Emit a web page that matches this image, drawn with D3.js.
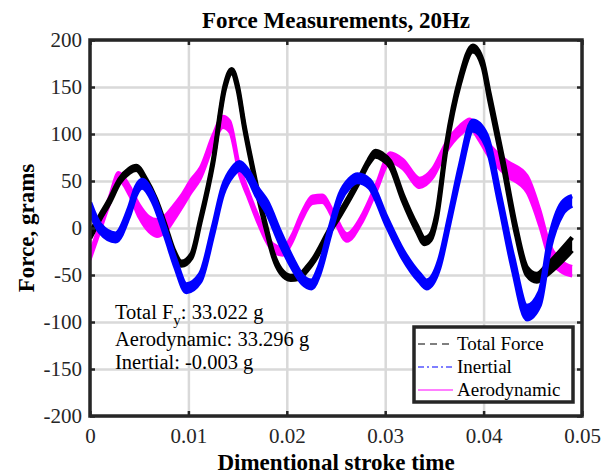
<!DOCTYPE html>
<html lang="en">
<head>
<meta charset="utf-8">
<title>Force Measurements, 20Hz</title>
<style>
  body { margin: 0; background: #fff; }
  svg { display: block; font-family: "Liberation Serif", "Times New Roman", serif; }
</style>
</head>
<body>
<svg id="chart" width="608" height="476"></svg>
<script src="https://d3js.org/d3.v7.min.js"></script>
<script>

// ---- data (time in s, force in grams) ----

let xTicks = [0, 0.01, 0.02, 0.03, 0.04, 0.05]
let yTicks = [-200, -150, -100, -50, 0, 50, 100, 150, 200]

// Total force (black band)
let totalTime = [0, .001, .002, .003, .004, .0047, .0057, .0067, .0077, .0085, .0093, .0103, .0112, .0125, .0137,
  .0144, .015, .0157, .0165, .0172, .0179, .0186, .0194, .0204, .0212, .022, .0228, .0236, .0244, .0254,
  .0264, .0274, .0283, .029, .0297, .0305, .0318, .0332, .034, .0346, .0352, .0362, .0376, .0389, .0399,
  .0406, .042, .0433, .0444, .0454, .0464, .0474, .049]
let totalForce = [-8, 11, 29, 50, 61, 64, 50, 29, 0, -25, -38, -30, 7, 70, 150,
  167, 150, 107, 65, 30, 0, -28, -46, -53, -52, -44, -33, -18, -2, 15,
  33, 52, 70, 79, 76, 68, 32, 0, -14, -10, 11, 86, 157, 191, 175,
  139, 68, -3, -46, -53, -45, -35, -17]
let totalSpread = [3, 2, 2, 2, 2, 2, 2, 2, 2, 2, 2, 2, 2, 2, 2,
  2, 2, 2, 2, 2, 2, 2, 2, 2, 2, 2, 2, 2, 2, 2,
  2, 2, 2, 3, 3, 3, 3, 3, 3, 3, 3, 3, 3, 3, 3,
  4, 4, 4, 4, 4, 5, 6, 7]

// Inertial (blue band)
let inertialTime = [0, .001, .0026, .004, .0047, .0053, .0064, .0077, .0087, .0098, .0112, .0125, .0135, .0145, .0152,
  .016, .017, .018, .0193, .0206, .0216, .0225, .0233, .0244, .0254, .0264, .0272, .0284, .0301, .0318,
  .0335, .0342, .0355, .0365, .0376, .0389, .0403, .0416, .043, .0444, .0457, .0467, .048, .049]
let inertialForce = [22, 0, -10, 18, 40, 47, 32, -6, -38, -64, -53, -3, 40, 60, 66,
  58, 38, 22, -10, -38, -55, -60, -45, -3, 32, 48, 53, 47, 8, -28,
  -53, -60, -38, 8, 61, 109, 93, 32, -38, -90, -75, -17, 21, 29]
let inertialSpread = [5, 4, 4, 4, 4, 4, 4, 4, 4, 4, 4, 4, 4, 4, 4,
  4, 5, 6, 6, 5, 4, 4, 4, 4, 4, 4, 4, 4, 4, 4,
  4, 4, 4, 4, 5, 5, 6, 6, 7, 7, 7, 6, 6, 5]

// Aerodynamic (magenta band)
let aeroTime = [0, .001, .002, .0029, .004, .005, .006, .0068, .0076, .0085, .0093, .0103, .0112, .0125, .0135,
  .0142, .0152, .016, .017, .0178, .0186, .0196, .0205, .0215, .0226, .0236, .0248, .0261, .0277, .0291,
  .0305, .0318, .0335, .0348, .0362, .0376, .0386, .0395, .0406, .0423, .0444, .0457, .0467, .0478, .049]
let aeroForce = [-30, 0, 30, 55, 40, 18, 4, 0, 4, 16, 28, 45, 58, 93, 113,
  108, 61, 38, 11, -8, -21, -25, -12, 12, 30, 31, 12, -10, 11, 43,
  75, 68, 48, 58, 86, 104, 111, 100, 82, 64, 47, 11, -25, -40, -46]
let aeroSpread = [4, 4, 4, 4, 5, 7, 8, 9, 9, 8, 7, 7, 6, 6, 6,
  6, 5, 4, 4, 4, 4, 4, 4, 4, 4, 4, 4, 4, 4, 4,
  5, 5, 5, 5, 5, 5, 5, 6, 7, 8, 9, 9, 8, 6, 5]

let legendNames = ["Total Force", "Inertial", "Aerodynamic"]
let notes = ["Aerodynamic: 33.296 g", "Inertial: -0.003 g"]

// ---- layout ----

const box = {left: 90, right: 582, top: 40, bottom: 416}
const frameColor = "#262626"

const svg = d3.select("#chart")

let x = d3.scaleLinear().domain([0, 0.05]).range([box.left, box.right])
let y = d3.scaleLinear().domain([-200, 200]).range([box.bottom, box.top])

svg.append("defs").append("clipPath").attr("id", "clip")
  .append("rect")
    .attr("x", box.left).attr("y", box.top)
    .attr("width", box.right - box.left).attr("height", box.bottom - box.top)

// grid lines
svg.append("g")
  .attr("transform", "translate(0," + box.bottom + ")")
  .call(d3.axisBottom(x).tickValues(xTicks).tickSize(-(box.bottom - box.top)).tickFormat(""))
  .call(g => g.select(".domain").remove())
  .selectAll("line").attr("stroke", "#d9d9d9").attr("stroke-width", 2.5)

svg.append("g")
  .attr("transform", "translate(" + box.left + ",0)")
  .call(d3.axisLeft(y).tickValues(yTicks).tickSize(-(box.right - box.left)).tickFormat(""))
  .call(g => g.select(".domain").remove())
  .selectAll("line").attr("stroke", "#d9d9d9").attr("stroke-width", 2.5)

// bands: many overlapping strokes in the original, drawn here as a filled band with stroked edges
let plotArea = svg.append("g").attr("clip-path", "url(#clip)")

function drawSeries(times, values, spread, color, width) {
  let pts = times.map(function(t, i) { return {t: t, v: values[i], s: spread[i]} })
  let area = d3.area()
    .x(d => x(d.t))
    .y0(d => y(d.v - d.s))
    .y1(d => y(d.v + d.s))
    .curve(d3.curveMonotoneX)
  let upper = d3.line().x(d => x(d.t)).y(d => y(d.v + d.s)).curve(d3.curveMonotoneX)
  let lower = d3.line().x(d => x(d.t)).y(d => y(d.v - d.s)).curve(d3.curveMonotoneX)

  let g = plotArea.append("g")
  g.append("path").datum(pts).attr("d", area).attr("fill", color)
  g.selectAll("path.edge").data([upper, lower])
    .enter().append("path")
      .attr("class", "edge")
      .attr("d", gen => gen(pts))
      .attr("fill", "none")
      .attr("stroke", color)
      .attr("stroke-width", width)
      .attr("stroke-linejoin", "round")
}

drawSeries(aeroTime, aeroForce, aeroSpread, "#ff00ff", 3)
drawSeries(totalTime, totalForce, totalSpread, "#000000", 4.5)
drawSeries(inertialTime, inertialForce, inertialSpread, "#0000ff", 4.5)

// axes with inward ticks on all four sides
function styleAxis(g) {
  g.select(".domain").remove()
  g.selectAll(".tick line").attr("stroke", frameColor).attr("stroke-width", 2.5)
  g.selectAll("text").attr("fill", "#262626").style("font-size", "21px")
    .style("font-family", "'Liberation Serif', 'Times New Roman', serif")
}

let fmt = d => String(d)

svg.append("g")
  .attr("transform", "translate(0," + box.bottom + ")")
  .call(d3.axisBottom(x).tickValues(xTicks).tickSize(-5).tickPadding(12).tickFormat(fmt))
  .call(styleAxis)

svg.append("g")
  .attr("transform", "translate(0," + box.top + ")")
  .call(d3.axisTop(x).tickValues(xTicks).tickSize(-5).tickFormat(""))
  .call(styleAxis)

svg.append("g")
  .attr("transform", "translate(" + box.left + ",0)")
  .call(d3.axisLeft(y).tickValues(yTicks).tickSize(-5).tickPadding(8).tickFormat(fmt))
  .call(styleAxis)

svg.append("g")
  .attr("transform", "translate(" + box.right + ",0)")
  .call(d3.axisRight(y).tickValues(yTicks).tickSize(-5).tickFormat(""))
  .call(styleAxis)

svg.append("rect")
  .attr("x", box.left).attr("y", box.top)
  .attr("width", box.right - box.left).attr("height", box.bottom - box.top)
  .attr("fill", "none").attr("stroke", frameColor).attr("stroke-width", 3.5)

// title and labels
let cx = (box.left + box.right) / 2
svg.append("text")
  .attr("x", cx).attr("y", 28)
  .attr("text-anchor", "middle")
  .style("font-size", "23px").style("font-weight", "bold")
  .text("Force Measurements, 20Hz")

svg.append("text")
  .attr("x", cx).attr("y", 470)
  .attr("text-anchor", "middle")
  .style("font-size", "23px").style("font-weight", "bold")
  .text("Dimentional stroke time")

svg.append("text")
  .attr("transform", "translate(34," + y(0) + ") rotate(-90)")
  .attr("text-anchor", "middle")
  .style("font-size", "23px").style("font-weight", "bold")
  .text("Force, grams")

// annotation text
let note = svg.append("text")
  .attr("x", 115).attr("y", 319)
  .style("font-size", "20.5px")
note.append("tspan").text("Total F")
note.append("tspan").attr("dy", 6).style("font-size", "15px").text("y")
note.append("tspan").attr("dy", -6).text(": 33.022 g")

svg.selectAll("text.note").data(notes)
  .enter().append("text")
    .attr("class", "note")
    .attr("x", 115)
    .attr("y", (d, i) => 346 + i * 23)
    .style("font-size", "20.5px")
    .text(d => d)

// legend
let legend = svg.append("g").attr("transform", "translate(414,327)")
legend.append("rect")
  .attr("width", 159).attr("height", 75)
  .attr("fill", "#fff").attr("stroke", frameColor).attr("stroke-width", 3.5)

let legendStyle = [
  {color: "#000000", dash: "7,5"},
  {color: "#0000ff", dash: "6,3,2,3"},
  {color: "#ff00ff", dash: null}
]

let rows = legend.selectAll("g.row").data(legendNames)
  .enter().append("g")
    .attr("class", "row")
    .attr("transform", (d, i) => "translate(0," + (17 + i * 23) + ")")

rows.append("line")
  .attr("x1", 4).attr("x2", 39)
  .attr("stroke", (d, i) => legendStyle[i].color)
  .attr("stroke-width", 1.2)
  .attr("stroke-dasharray", (d, i) => legendStyle[i].dash)

rows.append("text")
  .attr("x", 43).attr("dy", "0.33em")
  .style("font-size", "19px")
  .text(d => d)

</script>
</body>
</html>
